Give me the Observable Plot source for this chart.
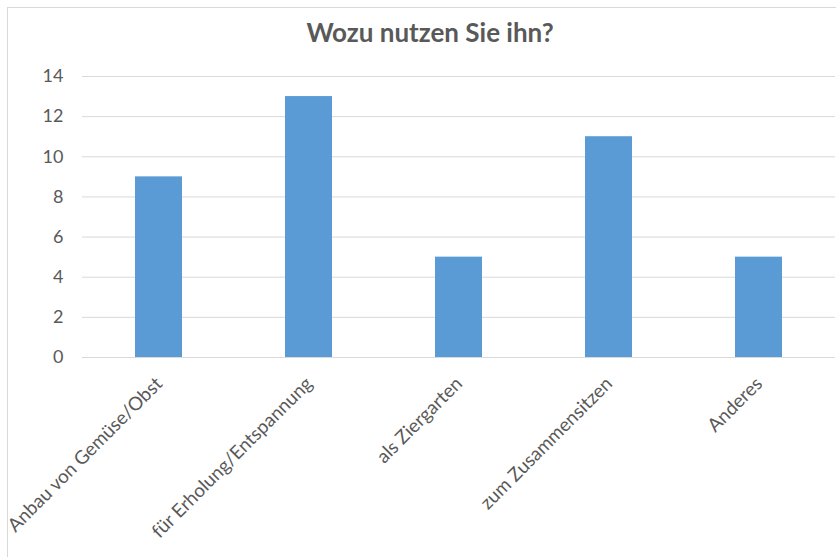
<!DOCTYPE html>
<html>
<head>
<meta charset="utf-8">
<script src="https://cdn.jsdelivr.net/npm/d3@7"></script>
<script src="https://cdn.jsdelivr.net/npm/@observablehq/plot@0.6"></script>
<style>
  html, body { margin: 0; padding: 0; background: #fff; overflow: hidden; }
  #wrap { position: relative; width: 836px; height: 557px; overflow: hidden; }
  #frame { position: absolute; left: 7px; top: 7px; width: 846px; height: 560px; border: 1px solid #d9d9d9; box-sizing: border-box; }
  #title { position: absolute; left: 0; width: 860px; top: 12px; height: 40px; text-align: center; font-family: Lato, sans-serif; font-weight: bold; font-size: 26px; color: #595959; line-height: 40px; }
  #chart { position: absolute; left: 0; top: 60px; }
</style>
</head>
<body>
<div id="wrap">
  <div id="frame"></div>
  <div id="title"></div>
  <div id="chart"></div>
</div>
<script>
const title = "Wozu nutzen Sie ihn?";
const categories = ["Anbau von Gemüse/Obst", "für Erholung/Entspannung", "als Ziergarten", "zum Zusammensitzen", "Anderes"];
const counts = [9, 13, 5, 11, 5];
const yTicks = [0, 2, 4, 6, 8, 10, 12, 14];

document.getElementById("title").textContent = title;
const data = categories.map((c, i) => ({cat: c, n: counts[i]}));

const chart = Plot.plot({
  width: 836,
  height: 497,
  marginTop: 16,
  marginBottom: 200,
  marginLeft: 82,
  marginRight: 1,
  style: {fontFamily: "Lato, sans-serif", fontSize: "18px", color: "#595959", background: "transparent", overflow: "visible"},
  x: {domain: categories, paddingInner: 0.688, paddingOuter: 0.344, axis: null},
  y: {domain: [0, 14], axis: null},
  marks: [
    Plot.gridY(yTicks, {stroke: "#d9d9d9", strokeOpacity: 1, strokeWidth: 1}),
    Plot.axisY(yTicks, {tickSize: 0, tickPadding: 19, fontSize: 18, fill: "#595959", label: null}),
    Plot.barY(data, {x: "cat", y: "n", fill: "#5B9BD5"}),
    Plot.ruleY([0], {stroke: "#d9d9d9", strokeWidth: 1}),
    Plot.text(categories, {x: d => d, frameAnchor: "bottom", textAnchor: "end", lineAnchor: "top", rotate: -45, dx: -5, dy: 18, fill: "#595959", fontSize: 18.8})
  ]
});
document.getElementById("chart").appendChild(chart);
</script>
</body>
</html>
